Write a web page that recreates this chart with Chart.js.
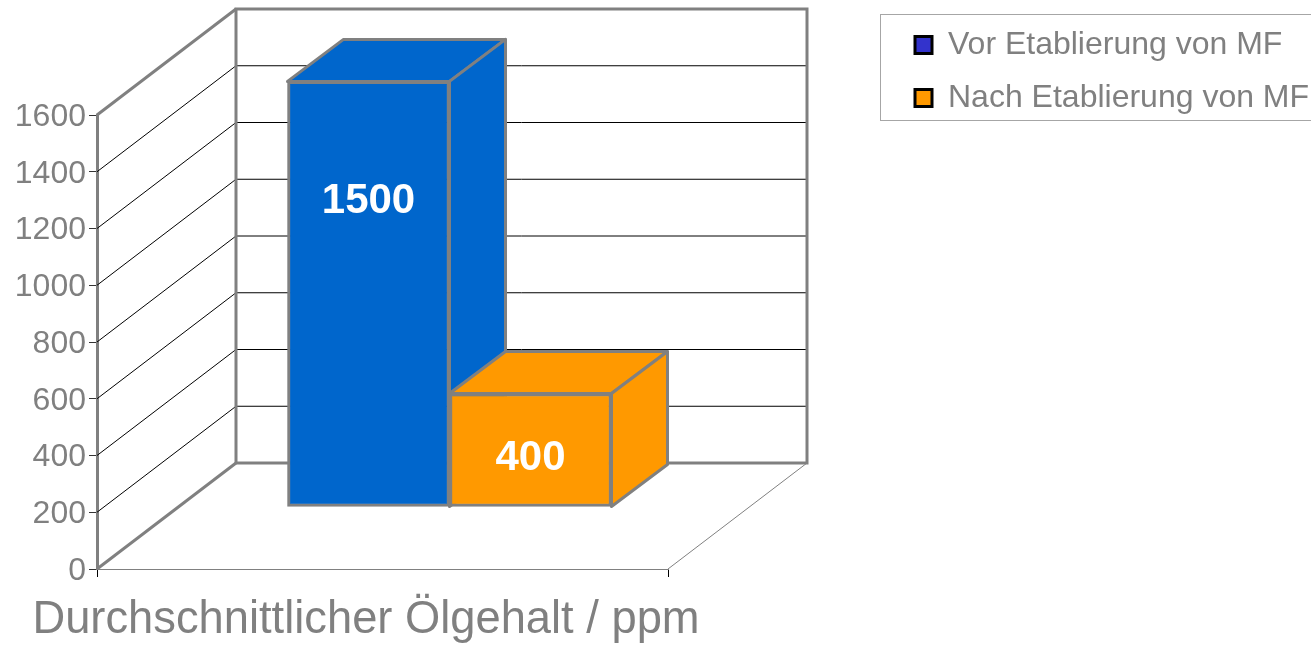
<!DOCTYPE html>
<html>
<head>
<meta charset="utf-8">
<title>Durchschnittlicher Ölgehalt</title>
<script src="https://cdn.jsdelivr.net/npm/chart.js@4"></script>
<style>
    body { margin: 0; background: #fff; }
    canvas { display: block; }
</style>
</head>
<body>
<canvas id="oilChart" width="1311" height="646" style="width:1311px;height:646px"></canvas>
<script>
const categories = ['Durchschnittlicher Ölgehalt / ppm'];
const seriesNames = ['Vor Etablierung von MF', 'Nach Etablierung von MF'];
const seriesValues = [[1500], [400]];
const barColors = ['#0066CC', '#FF9900'];
const legendColors = ['#3333CC', '#FF9900'];
const tickStep = 200;
const axisMax = 1600;

const GRAY = '#808080';
const FONT = '"Liberation Sans", Arial, sans-serif';

// depth of the 3d box, the walls go back this far
const WALL_DX = 139;
const WALL_DY = 106;
// the bars stand part way into the floor
const BAR_DX = 67;
const BAR_DY = 62;
const BAR_DEPTH_X = 56;
const BAR_DEPTH_Y = 42;
const LABEL_DROP = [120, 65];

function line(ctx, x1, y1, x2, y2, color, width) {
    ctx.strokeStyle = color;
    ctx.lineWidth = width;
    ctx.beginPath();
    ctx.moveTo(x1, y1);
    ctx.lineTo(x2, y2);
    ctx.stroke();
}

function face(ctx, points, fill) {
    ctx.fillStyle = fill;
    ctx.strokeStyle = GRAY;
    ctx.lineWidth = 3;
    ctx.lineJoin = 'round';
    ctx.beginPath();
    points.forEach((p, i) => i ? ctx.lineTo(p[0], p[1]) : ctx.moveTo(p[0], p[1]));
    ctx.closePath();
    ctx.fill();
    ctx.stroke();
}

const boxPlugin = {
    id: 'box3d',
    beforeDatasetsDraw(chart) {
        const { ctx, chartArea, scales } = chart;
        const left = chartArea.left, right = chartArea.right;
        const floor = scales.y.getPixelForValue(0);
        const top = scales.y.getPixelForValue(axisMax);
        ctx.save();

        // grid lines run along the side wall and then the back wall
        scales.y.ticks.forEach(t => {
            if (t.value === 0 || t.value === axisMax) return;
            const y = scales.y.getPixelForValue(t.value);
            line(ctx, left, y, left + WALL_DX, y - WALL_DY, '#000', 1);
            line(ctx, left + WALL_DX, y - WALL_DY, right + WALL_DX, y - WALL_DY, '#000', 1);
        });

        // floor
        line(ctx, right, floor, right + WALL_DX, floor - WALL_DY, GRAY, 1);

        // wall outlines
        line(ctx, left, floor, left + WALL_DX, floor - WALL_DY, GRAY, 3);
        line(ctx, left, top, left + WALL_DX, top - WALL_DY, GRAY, 3);
        ctx.strokeStyle = GRAY;
        ctx.lineWidth = 3;
        ctx.strokeRect(left + WALL_DX, top - WALL_DY, right - left, floor - top);

        // top and side of each bar, blue first so orange covers it
        chart.data.datasets.forEach((ds, i) => {
            const bar = chart.getDatasetMeta(i).data[0];
            const x1 = bar.x - bar.width / 2 + BAR_DX;
            const x2 = bar.x + bar.width / 2 + BAR_DX;
            const y1 = bar.y - BAR_DY;
            const y2 = bar.base - BAR_DY;
            face(ctx, [[x1, y1], [x1 + BAR_DEPTH_X, y1 - BAR_DEPTH_Y], [x2 + BAR_DEPTH_X, y1 - BAR_DEPTH_Y], [x2, y1]], ds.backgroundColor);
            face(ctx, [[x2, y1], [x2 + BAR_DEPTH_X, y1 - BAR_DEPTH_Y], [x2 + BAR_DEPTH_X, y2 - BAR_DEPTH_Y], [x2, y2]], ds.backgroundColor);
        });
        ctx.restore();

        // front faces get drawn by chart.js, just moved back onto the floor
        ctx.save();
        ctx.translate(BAR_DX, -BAR_DY);
    },
    afterDatasetsDraw(chart) {
        const ctx = chart.ctx;
        ctx.restore();

        ctx.save();
        ctx.fillStyle = '#fff';
        ctx.font = 'bold 42px ' + FONT;
        ctx.textAlign = 'center';
        ctx.textBaseline = 'middle';
        chart.data.datasets.forEach((ds, i) => {
            const bar = chart.getDatasetMeta(i).data[0];
            ctx.fillText(String(ds.data[0]), bar.x + BAR_DX, bar.y - BAR_DY + LABEL_DROP[i]);
        });

        // axis caption is not centred under the box in the original
        ctx.fillStyle = GRAY;
        ctx.font = '45.3px ' + FONT;
        ctx.fillText(categories[0], 366, 621);
        ctx.restore();
    }
};

const legendFramePlugin = {
    id: 'legendFrame',
    afterLayout(chart) {
        // legend sits off to the right, away from the box
        const lg = chart.legend;
        const w = lg.width;
        lg.left = 894;
        lg.right = 894 + w;
        lg.top = 8;
        lg.bottom = 8 + lg.height;
    },
    beforeDraw(chart) {
        const ctx = chart.ctx;
        ctx.save();
        ctx.strokeStyle = '#A6A6A6';
        ctx.lineWidth = 1;
        ctx.strokeRect(880.5, 14.5, 440, 106);
        ctx.restore();
    }
};

new Chart(document.getElementById('oilChart'), {
    type: 'bar',
    data: {
        labels: categories,
        datasets: seriesNames.map((name, i) => ({
            label: name,
            data: seriesValues[i],
            backgroundColor: barColors[i],
            borderColor: GRAY,
            borderWidth: 3,
            borderSkipped: false,
            barThickness: 162,
            clip: false
        }))
    },
    options: {
        responsive: false,
        animation: false,
        devicePixelRatio: 1,
        layout: { padding: { top: 115, right: 643, left: 0, bottom: 0 } },
        plugins: {
            tooltip: { enabled: false },
            legend: {
                position: 'chartArea',
                align: 'start',
                labels: {
                    color: GRAY,
                    font: { family: FONT, size: 32 },
                    boxWidth: 17,
                    boxHeight: 17,
                    padding: 21,
                    generateLabels: () => seriesNames.map((name, i) => ({
                        text: name,
                        fillStyle: legendColors[i],
                        strokeStyle: '#000',
                        lineWidth: 3,
                        fontColor: GRAY,
                        datasetIndex: i
                    }))
                }
            }
        },
        scales: {
            x: {
                grid: { drawOnChartArea: false, offset: true, color: '#000', tickLength: 8 },
                border: { color: GRAY, width: 1 },
                ticks: { display: false },
                afterFit(scale) { scale.height = 77; }
            },
            y: {
                min: 0,
                max: axisMax,
                grid: { drawOnChartArea: false, color: '#333', tickLength: 8 },
                border: { color: GRAY, width: 3 },
                ticks: {
                    stepSize: tickStep,
                    color: GRAY,
                    padding: 3,
                    labelOffset: 2,
                    font: { family: FONT, size: 32 },
                    callback: v => String(v)
                },
                afterFit(scale) { scale.width = 97; }
            }
        }
    },
    plugins: [boxPlugin, legendFramePlugin]
});
</script>
</body>
</html>
